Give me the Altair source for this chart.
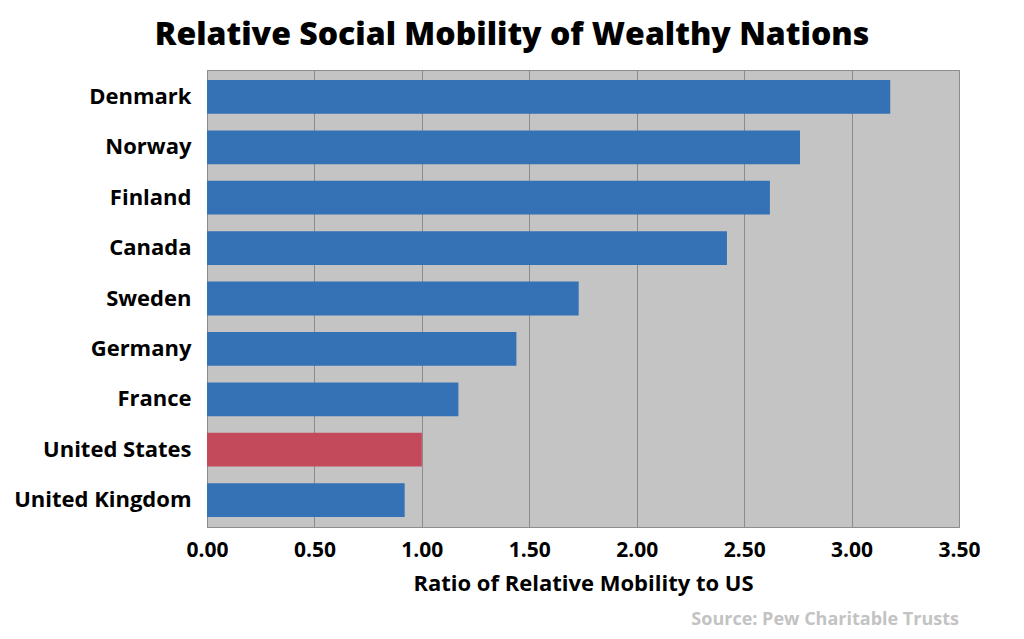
import altair as alt
import pandas as pd

countries = ["Denmark", "Norway", "Finland", "Canada", "Sweden", "Germany",
             "France", "United States", "United Kingdom"]
ratios = [3.18, 2.76, 2.62, 2.42, 1.73, 1.44, 1.17, 1.00, 0.92]
groups = ["other", "other", "other", "other", "other", "other", "other", "us", "other"]

df = pd.DataFrame({"country": countries, "ratio": ratios, "group": groups})

FONT = "Open Sans"

bars = alt.Chart(df).mark_bar().encode(
    y=alt.Y("country:N", sort=countries,
            scale=alt.Scale(paddingInner=0.33, paddingOuter=0.2),
            axis=alt.Axis(title=None, labelFont=FONT, labelFontSize=22,
                          labelFontWeight="bold", labelColor="#000000",
                          labelPadding=16, ticks=False, domain=False, grid=False)),
    x=alt.X("ratio:Q",
            scale=alt.Scale(domain=[0, 3.5], nice=False),
            axis=alt.Axis(title="Ratio of Relative Mobility to US",
                          values=[0, 0.5, 1, 1.5, 2, 2.5, 3, 3.5], format=".2f",
                          labelFont=FONT, labelFontSize=21, labelFontWeight="bold",
                          labelColor="#000000", labelPadding=12, labelFlush=False,
                          titleFont=FONT, titleFontSize=22, titleFontWeight="bold",
                          titleColor="#000000", titlePadding=13,
                          grid=True, gridColor="#8c8c8c", gridWidth=1,
                          ticks=False, domainColor="#8c8c8c")),
    color=alt.Color("group:N",
                    scale=alt.Scale(domain=["other", "us"], range=["#3572b5", "#c34a5a"]),
                    legend=None),
)

source = alt.Chart().mark_text(
    text="Source: Pew Charitable Trusts", font=FONT, fontSize=18,
    fontWeight="bold", color="#c3c3c3", align="right", baseline="alphabetic"
).encode(x=alt.value(752), y=alt.value(555))

chart = alt.layer(bars, source).properties(
    width=752, height=457,
    autosize=alt.AutoSizeParams(type="none"),
    padding={"left": 207, "top": 70, "right": 65, "bottom": 112},
    title=alt.TitleParams("Relative Social Mobility of Wealthy Nations",
                          font=FONT, fontSize=32, fontWeight=800, color="#000000",
                          anchor="middle", dx=-71, offset=18),
    background="#ffffff",
).configure_view(fill="#c4c4c4", stroke="#8c8c8c", strokeWidth=1)

chart.save("out.html", embed_options={"renderer": "svg", "actions": False})
